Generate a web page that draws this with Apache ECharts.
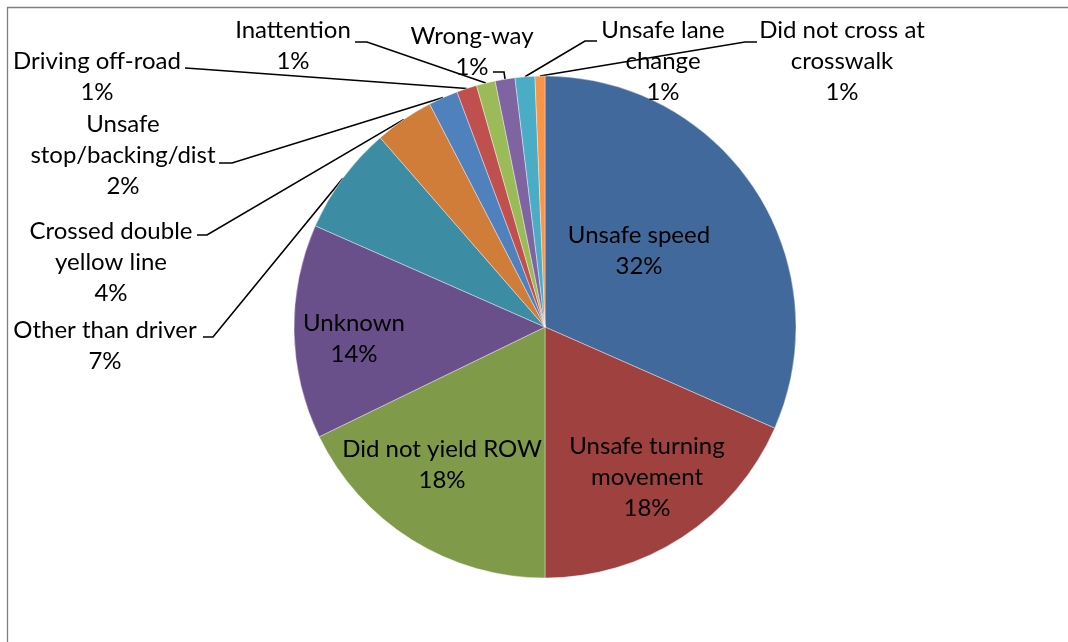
<!DOCTYPE html>
<html>
<head>
<meta charset="utf-8">
<script src="https://cdn.jsdelivr.net/npm/echarts@6/dist/echarts.min.js"></script>
<style>
  html, body { margin: 0; padding: 0; background: #ffffff; }
  #chart { width: 1068px; height: 642px; }
</style>
</head>
<body>
<div id="chart"></div>
<script>
// ---- Data ----
const categories = ['Unsafe speed', 'Unsafe turning movement', 'Did not yield ROW', 'Unknown',
  'Other than driver', 'Crossed double yellow line', 'Unsafe stop/backing/dist', 'Driving off-road',
  'Inattention', 'Wrong-way', 'Unsafe lane change', 'Did not cross at crosswalk'];
const values = [31.6, 18.4, 17.8, 13.8, 7.0, 3.8, 1.9, 1.3, 1.22, 1.27, 1.27, 0.64];
const labelTexts = ['Unsafe speed', 'Unsafe turning\nmovement', 'Did not yield ROW', 'Unknown',
  'Other than driver', 'Crossed double\nyellow line', 'Unsafe\nstop/backing/dist', 'Driving off-road',
  'Inattention', 'Wrong-way', 'Unsafe lane\nchange', 'Did not cross at\ncrosswalk'];
const colors = ['#41699C', '#9E413F', '#7F9A48', '#69508A', '#3C8DA3', '#CF7D38',
  '#4F81BD', '#C0504D', '#9BBB59', '#8064A2', '#4BACC6', '#F79646'];
const insideCount = 4;

// ---- Label placement (layout, not data) ----
const labelPlaces = [
  { x: 639, y: 251 },
  { x: 647, y: 477 },
  { x: 442, y: 465 },
  { x: 354, y: 339 },
  { x: 105, y: 346, stub: [[213, 337], [203, 337]] },
  { x: 111, y: 262, stub: [[207, 235], [197, 235]] },
  { x: 123, y: 155, stub: [[232, 163], [219, 163]] },
  { x: 97,  y: 77,  stub: [[200, 69], [185, 68]] },
  { x: 293, y: 46,  stub: [[367, 42], [355, 42]] },
  { x: 472, y: 52,  stub: [[504, 72], [493, 72]] },
  { x: 663, y: 61,  stub: [[585, 41], [597, 41]] },
  { x: 842, y: 61,  stub: [[745, 42], [757, 42]] }
];

const FONT = 'Lato, "Open Sans", sans-serif';

const pieData = categories.map((name, i) => {
  const inside = i < insideCount;
  return {
    name: name,
    value: values[i],
    itemStyle: { color: colors[i] },
    label: { position: inside ? 'inside' : 'outside' },
    labelLine: { show: !inside }
  };
});

const chart = echarts.init(document.getElementById('chart'), null, { renderer: 'canvas' });
chart.setOption({
  backgroundColor: '#ffffff',
  animation: false,
  graphic: [{
    type: 'rect',
    shape: { x: 7.5, y: 7.5, width: 1100, height: 700 },
    style: { fill: 'none', stroke: '#7f7f7f', lineWidth: 1.3 },
    silent: true,
    z: -10
  }],
  series: [{
    type: 'pie',
    center: [545, 327],
    radius: 251,
    startAngle: 90,
    clockwise: true,
    avoidLabelOverlap: false,
    itemStyle: { borderColor: 'rgba(255,255,255,0.55)', borderWidth: 0.7 },
    label: {
      show: true,
      color: '#000000',
      fontFamily: FONT,
      fontSize: 24,
      lineHeight: 31,
      align: 'center',
      formatter: function (p) {
        return labelTexts[p.dataIndex] + '\n' + Math.round(p.percent) + '%';
      }
    },
    labelLine: {
      show: true,
      length: 20,
      length2: 10,
      smooth: false,
      lineStyle: { color: '#000000', width: 1.6 }
    },
    labelLayout: function (params) {
      const pl = labelPlaces[params.dataIndex];
      const out = { x: pl.x, y: pl.y, align: 'center', verticalAlign: 'middle' };
      if (pl.stub && params.labelLinePoints) {
        const p0 = params.labelLinePoints[0];
        out.labelLinePoints = [p0, pl.stub[0], pl.stub[1]];
      }
      return out;
    },
    data: pieData
  }]
});
</script>
</body>
</html>
